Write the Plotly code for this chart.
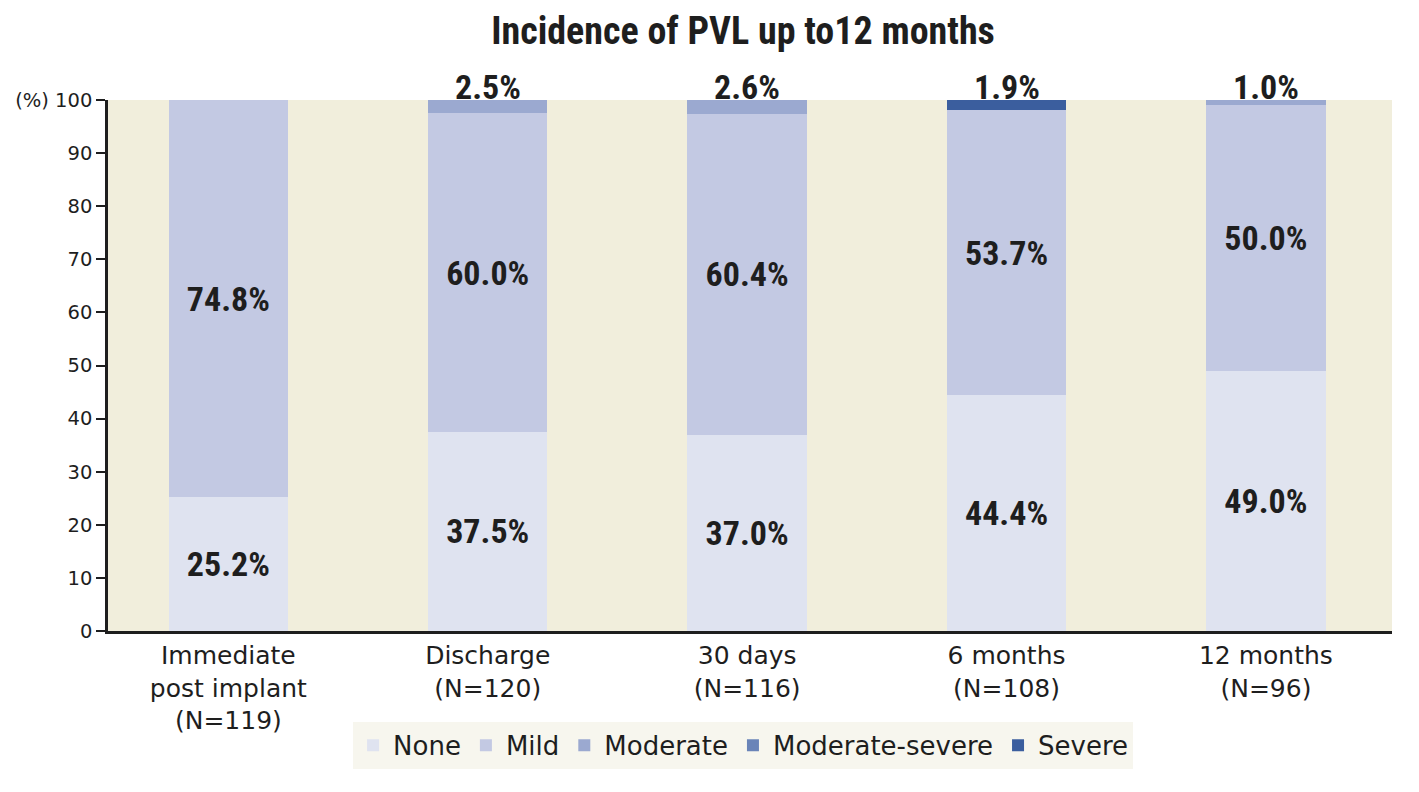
import plotly.graph_objects as go

categories = ["Immediate<br>post implant<br>(N=119)", "Discharge<br>(N=120)", "30 days<br>(N=116)",
              "6 months<br>(N=108)", "12 months<br>(N=96)"]
none_vals = [25.2, 37.5, 37.0, 44.4, 49.0]
mild_vals = [74.8, 60.0, 60.4, 53.7, 50.0]
moderate_vals = [0.0, 2.5, 2.6, 0.0, 1.0]
modsev_vals = [0.0, 0.0, 0.0, 0.0, 0.0]
severe_vals = [0.0, 0.0, 0.0, 1.9, 0.0]
y_ticks = [0, 10, 20, 30, 40, 50, 60, 70, 80, 90, 100]
y_ticklabels = ["0", "10", "20", "30", "40", "50", "60", "70", "80", "90", "(%) 100"]

series = [
    ("None", none_vals, "#dfe3f0", True),
    ("Mild", mild_vals, "#c3c9e3", True),
    ("Moderate", moderate_vals, "#9ba9d0", False),
    ("Moderate-severe", modsev_vals, "#6a84b8", False),
    ("Severe", severe_vals, "#3b5e9e", False),
]

BOLD_FONT = "Roboto Condensed, Liberation Sans Narrow, sans-serif"
REG_FONT = "DejaVu Sans, sans-serif"
INK = "#1e1e1e"
x = list(range(len(categories)))

fig = go.Figure()
for name, vals, color, inside in series:
    fig.add_trace(go.Bar(
        x=x, y=vals, name=name, marker=dict(color=color, line=dict(width=0)),
        width=0.46,
        text=[f"<b>{v:.1f}%</b>" for v in vals] if inside else None,
        textposition="inside" if inside else "none",
        insidetextanchor="middle", textangle=0, constraintext="none",
        textfont=dict(size=34, color=INK, family=BOLD_FONT),
        hoverinfo="skip",
    ))

# labels for the small top segments
for i in x:
    small = moderate_vals[i] + modsev_vals[i] + severe_vals[i]
    if small > 0:
        fig.add_annotation(x=i, y=100, yref="y", xref="x", text=f"<b>{small:.1f}%</b>",
                           showarrow=False, yanchor="bottom", yshift=-9,
                           font=dict(size=34, color=INK, family=BOLD_FONT))

# the browser page adds an 8px body margin, so the figure is drawn 8px smaller
fig.update_layout(
    width=1411, height=784,
    barmode="stack",
    paper_bgcolor="white", plot_bgcolor="#f1eedc",
    margin=dict(l=100, r=27, t=92, b=161, autoexpand=False),
    font=dict(family=REG_FONT, color=INK),
    title=dict(text="<b>Incidence of PVL up to12 months</b>", x=0.4946, xref="paper",
               xanchor="center", y=1 - 23 / 784, yanchor="middle",
               font=dict(size=38, family=BOLD_FONT, color=INK)),
    showlegend=True,
    legend=dict(orientation="h", x=0.4946, xanchor="center", y=-0.171, yanchor="top",
                bgcolor="#f7f6ee", font=dict(size=26, family=REG_FONT, color=INK),
                traceorder="normal", itemclick=False, itemdoubleclick=False),
)
fig.update_xaxes(range=[-0.464, 4.486], tickvals=x, ticktext=categories,
                 showline=True, linecolor=INK, linewidth=3, ticks="",
                 showgrid=False, zeroline=False, fixedrange=True, automargin=False,
                 tickfont=dict(size=25, family=REG_FONT, color=INK))
fig.update_yaxes(range=[0, 100], tickvals=y_ticks, ticktext=y_ticklabels,
                 showline=True, linecolor=INK, linewidth=2.5, ticks="outside",
                 ticklen=9, tickwidth=2, tickcolor=INK, showgrid=False,
                 zeroline=False, fixedrange=True, automargin=False,
                 tickfont=dict(size=19.5, family=REG_FONT, color=INK))

fig.write_html("out.html")
